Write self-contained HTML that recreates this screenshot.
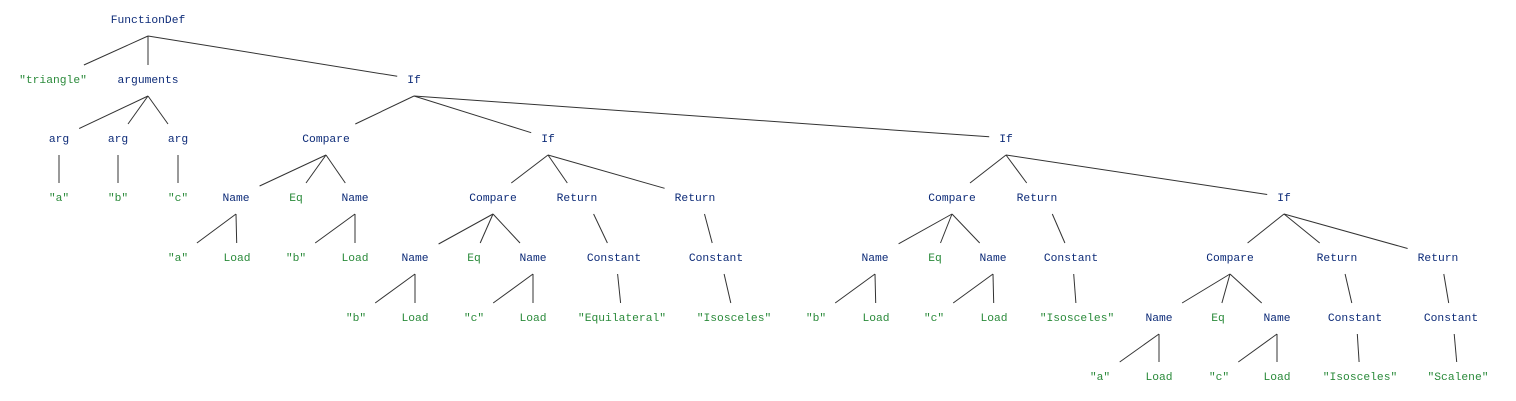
<!DOCTYPE html>
<html><head><meta charset="utf-8"><style>
html,body{margin:0;padding:0;background:#fff;width:1516px;height:401px;overflow:hidden}
svg{display:block}
text{font-family:"Liberation Mono",monospace;font-size:11.3px;text-anchor:middle}
.b{fill:#0d2b78}.g{fill:#2a8a3a}
line{stroke:#333;stroke-width:1}
</style></head><body>
<svg id="s" width="1516" height="401" xmlns="http://www.w3.org/2000/svg"></svg>
<script>
var R=[19,79,138,197,257,317,376];
var N={};
function n(id,t,x,r,c){N[id]={t:t,x:x,y:R[r],c:c};}
n('fd','FunctionDef',148,0,'b');
n('tri','"triangle"',53,1,'g');n('args','arguments',148,1,'b');n('if1','If',414,1,'b');
n('a1','arg',59,2,'b');n('a2','arg',118,2,'b');n('a3','arg',178,2,'b');n('cmp1','Compare',326,2,'b');n('if2','If',548,2,'b');n('if3','If',1006,2,'b');
n('sa','"a"',59,3,'g');n('sb','"b"',118,3,'g');n('sc','"c"',178,3,'g');n('n1','Name',236,3,'b');n('eq1','Eq',296,3,'g');n('n2','Name',355,3,'b');n('cmp2','Compare',493,3,'b');n('r1','Return',577,3,'b');n('r2','Return',695,3,'b');n('cmp3','Compare',952,3,'b');n('r3','Return',1037,3,'b');n('if4','If',1284,3,'b');
n('n1a','"a"',178,4,'g');n('n1l','Load',237,4,'g');n('n2b','"b"',296,4,'g');n('n2l','Load',355,4,'g');n('n3','Name',415,4,'b');n('eq2','Eq',474,4,'g');n('n4','Name',533,4,'b');n('c1','Constant',614,4,'b');n('c2','Constant',716,4,'b');n('n5','Name',875,4,'b');n('eq3','Eq',935,4,'g');n('n6','Name',993,4,'b');n('c3','Constant',1071,4,'b');n('cmp4','Compare',1230,4,'b');n('r4','Return',1337,4,'b');n('r5','Return',1438,4,'b');
n('n3b','"b"',356,5,'g');n('n3l','Load',415,5,'g');n('n4c','"c"',474,5,'g');n('n4l','Load',533,5,'g');n('s1','"Equilateral"',622,5,'g');n('s2','"Isosceles"',734,5,'g');n('n5b','"b"',816,5,'g');n('n5l','Load',876,5,'g');n('n6c','"c"',934,5,'g');n('n6l','Load',994,5,'g');n('s3','"Isosceles"',1077,5,'g');n('n7','Name',1159,5,'b');n('eq4','Eq',1218,5,'g');n('n8','Name',1277,5,'b');n('c4','Constant',1355,5,'b');n('c5','Constant',1451,5,'b');
n('n7a','"a"',1100,6,'g');n('n7l','Load',1159,6,'g');n('n8c','"c"',1219,6,'g');n('n8l','Load',1277,6,'g');n('s4','"Isosceles"',1360,6,'g');n('s5','"Scalene"',1458,6,'g');
var E={fd:['tri','args','if1'],args:['a1','a2','a3'],if1:['cmp1','if2','if3'],a1:['sa'],a2:['sb'],a3:['sc'],
cmp1:['n1','eq1','n2'],if2:['cmp2','r1','r2'],if3:['cmp3','r3','if4'],n1:['n1a','n1l'],n2:['n2b','n2l'],
cmp2:['n3','eq2','n4'],r1:['c1'],r2:['c2'],cmp3:['n5','eq3','n6'],r3:['c3'],if4:['cmp4','r4','r5'],
n3:['n3b','n3l'],n4:['n4c','n4l'],c1:['s1'],c2:['s2'],n5:['n5b','n5l'],n6:['n6c','n6l'],c3:['s3'],
cmp4:['n7','eq4','n8'],r4:['c4'],r5:['c5'],n7:['n7a','n7l'],n8:['n8c','n8l'],c4:['s4'],c5:['s5']};
var s=document.getElementById('s'),h='';
for(var p in E){var P=N[p];var single=E[p].length==1;
 E[p].forEach(function(k){var C=N[k];
  var px=P.x, py=P.y+17;
  if(single){ if(C.t.length<=3&&P.t=='arg'){h+='<line x1="'+P.x+'" y1="'+(P.y+17)+'" x2="'+P.x+'" y2="'+(C.y-14)+'"/>';return;}
    px=P.x+(C.x-P.x)*0.45; }
  var hw=C.t.length*3.4+10,hh=14;
  var dx=C.x-px,dy=C.y-py;
  var ty=(dy-hh)/dy; var tx=Math.abs(dx)>0?(Math.abs(dx)-hw)/Math.abs(dx):0;
  var t=Math.max(ty,tx);
  h+='<line x1="'+px.toFixed(1)+'" y1="'+py+'" x2="'+(px+dx*t).toFixed(1)+'" y2="'+(py+dy*t).toFixed(1)+'"/>';});}
for(var k in N){var C=N[k];h+='<text class="'+C.c+'" x="'+C.x+'" y="'+(C.y+4)+'">'+C.t.replace(/"/g,'&quot;')+'</text>';}
s.innerHTML=h;
</script>
</body></html>
